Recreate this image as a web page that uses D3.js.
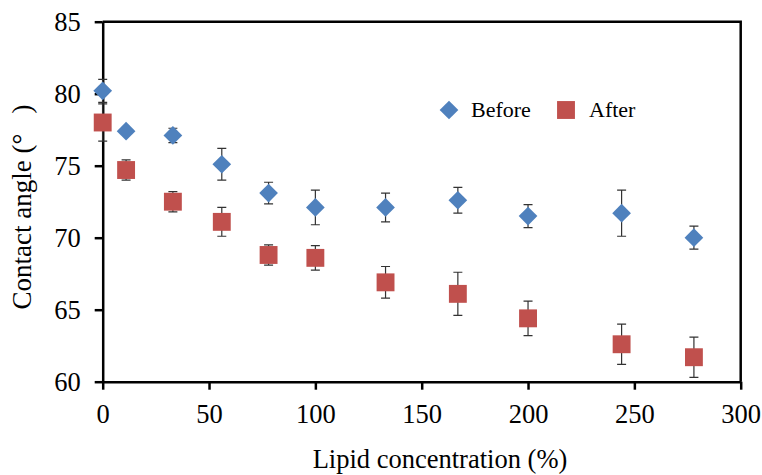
<!DOCTYPE html>
<html><head><meta charset="utf-8">
<script src="https://cdn.jsdelivr.net/npm/d3@7"></script>
<style>
html,body{margin:0;padding:0;background:#fff;}
text{font-family:"Liberation Serif","Times New Roman",serif;fill:#000;}
</style></head>
<body><svg id="chart" width="762" height="475"></svg>
<script>
const concentration = [0, 11, 33, 56, 78, 100, 133, 167, 200, 244, 278];
const beforeValues = [80.2, 77.4, 77.1, 75.1, 73.1, 72.1, 72.1, 72.6, 71.5, 71.7, 70.0];
const beforeErrors = [0.8, 0.2, 0.5, 1.1, 0.75, 1.2, 1.0, 0.9, 0.8, 1.6, 0.8];
const afterValues = [78.0, 74.7, 72.5, 71.1, 68.8, 68.6, 66.9, 66.1, 64.4, 62.6, 61.7];
const afterErrors = [1.3, 0.7, 0.7, 1.0, 0.7, 0.85, 1.1, 1.5, 1.2, 1.4, 1.4];
const xTicks = [0, 50, 100, 150, 200, 250, 300];
const yTicks = [60, 65, 70, 75, 80, 85];
const seriesNames = ["Before", "After"];

const svg = d3.select("#chart");
const m = {left: 102.7, right: 740.7, top: 21.7, bottom: 381.7};
const x = d3.scaleLinear().domain([0, 300]).range([m.left, m.right]);
const y = d3.scaleLinear().domain([60, 85]).range([m.bottom, m.top]);

// frame (top & right)
svg.append("path")
  .attr("d", `M${m.left},${m.top}H${m.right}V${m.bottom}`)
  .attr("fill", "none").attr("stroke", "#000").attr("stroke-width", 2.5);

const yAxis = svg.append("g").attr("transform", `translate(${m.left},0)`)
  .call(d3.axisLeft(y).tickValues(yTicks).tickSize(8).tickPadding(14).tickSizeOuter(0));
const xAxis = svg.append("g").attr("transform", `translate(0,${m.bottom})`)
  .call(d3.axisBottom(x).tickValues(xTicks).tickSize(8).tickPadding(14).tickSizeOuter(0));
[yAxis, xAxis].forEach(a => {
  a.selectAll("path.domain").attr("stroke", "#000").attr("stroke-width", 2.5);
  a.selectAll(".tick line").attr("stroke", "#000").attr("stroke-width", 2.5);
  a.selectAll("text").style("font-family", '"Liberation Serif","Times New Roman",serif')
    .style("font-size", "26.5px").attr("fill", "#000");
});
xAxis.selectAll("text").attr("dy", "0.71em");

// axis titles
svg.append("text").attr("x", 440).attr("y", 468).attr("text-anchor", "middle")
  .style("font-size", "26.5px").text("Lipid concentration (%)");
svg.append("text").attr("transform", "translate(31,207) rotate(-90)")
  .attr("text-anchor", "middle").style("font-size", "27px")
  .attr("xml:space", "preserve").style("white-space", "pre").text("Contact angle (°   )");

const series = [
  {name: seriesNames[0], vals: beforeValues, errs: beforeErrors, color: "#4F81BD", shape: "diamond"},
  {name: seriesNames[1], vals: afterValues, errs: afterErrors, color: "#C0504D", shape: "square"}
];

function drawMarker(g, shape, color, cx, cy) {
  if (shape === "diamond") {
    g.append("path").attr("d", d3.symbol(d3.symbolSquare, 175)())
      .attr("transform", `translate(${cx},${cy}) rotate(45)`).attr("fill", color);
  } else {
    g.append("path").attr("d", d3.symbol(d3.symbolSquare, 320)())
      .attr("transform", `translate(${cx},${cy})`).attr("fill", color);
  }
}

series.forEach(s => {
  const eg = svg.append("g");
  concentration.forEach((c, i) => {
    const cx = x(c), y1 = y(s.vals[i] + s.errs[i]), y2 = y(s.vals[i] - s.errs[i]);
    eg.append("path").attr("d", `M${cx},${y1}V${y2}M${cx-4.5},${y1}H${cx+4.5}M${cx-4.5},${y2}H${cx+4.5}`)
      .attr("stroke", "#333").attr("stroke-width", 1.2).attr("fill", "none");
  });
});
series.forEach(s => {
  const mg = svg.append("g");
  concentration.forEach((c, i) => drawMarker(mg, s.shape, s.color, x(c), y(s.vals[i])));
});

// legend
const leg = svg.append("g");
drawMarker(leg, "diamond", series[0].color, 449, 110);
leg.append("text").attr("x", 471).attr("y", 117).style("font-size", "22px").text(seriesNames[0]);
drawMarker(leg, "square", series[1].color, 566, 110);
leg.append("text").attr("x", 589).attr("y", 117).style("font-size", "22px").text(seriesNames[1]);
</script></body></html>
